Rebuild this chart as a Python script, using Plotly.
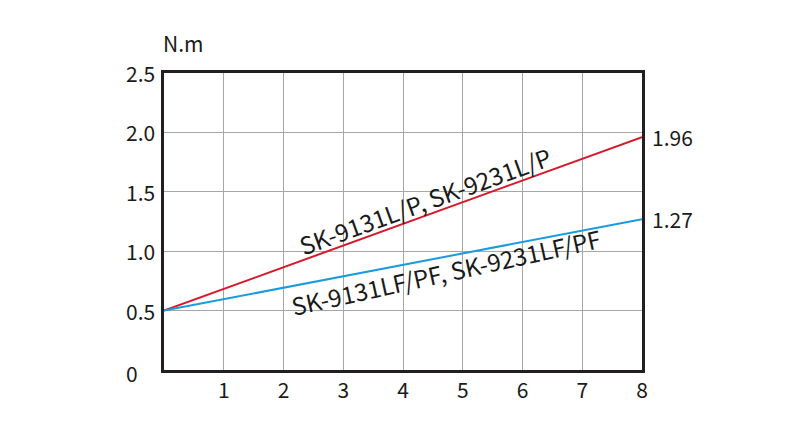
import plotly.graph_objects as go

x_vals = [0, 8]
red_vals = [0.5, 1.96]
blue_vals = [0.5, 1.27]
x_ticks = [1, 2, 3, 4, 5, 6, 7, 8]
y_ticks = [0, 0.5, 1.0, 1.5, 2.0, 2.5]
y_tick_text = ["0", "0.5", "1.0", "1.5", "2.0", "2.5"]
red_label = "SK-9131L/P, SK-9231L/P"
blue_label = "SK-9131LF/PF, SK-9231LF/PF"
unit_label = "N.m"

FONT = "Noto Sans CJK JP"
RED = "#d7182a"
BLUE = "#1a9be0"
TXT = "#1a1a1a"
TS = 21

fig = go.Figure()
fig.add_trace(go.Scatter(x=x_vals, y=red_vals, mode="lines",
                         line=dict(color=RED, width=2), showlegend=False, cliponaxis=False))
fig.add_trace(go.Scatter(x=x_vals, y=blue_vals, mode="lines",
                         line=dict(color=BLUE, width=2), showlegend=False, cliponaxis=False))

fig.update_layout(
    width=800, height=425,
    margin=dict(l=156, r=166, t=65, b=63),
    paper_bgcolor="white", plot_bgcolor="white",
    font=dict(family=FONT, size=TS, color=TXT),
    xaxis=dict(range=[0, 8], tickvals=x_ticks, ticks="", showgrid=True,
               gridcolor="#a6a6a6", gridwidth=1.3, showline=True, mirror=True,
               linecolor="#231f20", linewidth=2.5, zeroline=False,
               tickfont=dict(family=FONT, size=TS, color=TXT)),
    yaxis=dict(range=[0, 2.5], tickvals=y_ticks, showticklabels=False, ticks="",
               showgrid=True, gridcolor="#a6a6a6", gridwidth=1.3, showline=True,
               mirror=True, linecolor="#231f20", linewidth=2.5, zeroline=False),
)

# left-aligned y tick labels
for v, t in zip(y_ticks, y_tick_text):
    fig.add_annotation(x=0, y=v, xref="x", yref="y", text=t, showarrow=False,
                       xanchor="left", yanchor="middle", xshift=-40,
                       yshift=(-3 if v == 0 else 0),
                       font=dict(family=FONT, size=TS, color=TXT))

fig.add_annotation(x=0, y=1, xref="paper", yref="paper", text=unit_label,
                   showarrow=False, xanchor="left", yanchor="bottom", yshift=13, xshift=-3,
                   font=dict(family=FONT, size=TS, color=TXT))

# end value labels
fig.add_annotation(x=8, y=red_vals[1], xref="x", yref="y", text=f"{red_vals[1]:.2f}",
                   showarrow=False, xanchor="left", yanchor="middle", xshift=8,
                   font=dict(family=FONT, size=TS, color=TXT))
fig.add_annotation(x=8, y=blue_vals[1], xref="x", yref="y", text=f"{blue_vals[1]:.2f}",
                   showarrow=False, xanchor="left", yanchor="middle", xshift=8,
                   font=dict(family=FONT, size=TS, color=TXT))

# line labels
fig.add_annotation(x=4.36, y=1.43, xref="x", yref="y", text=red_label, showarrow=False,
                   textangle=-20, font=dict(family=FONT, size=24, color=TXT))
fig.add_annotation(x=4.72, y=0.825, xref="x", yref="y", text=blue_label, showarrow=False,
                   textangle=-12.5, font=dict(family=FONT, size=24, color=TXT))

fig.write_html("out.html")
